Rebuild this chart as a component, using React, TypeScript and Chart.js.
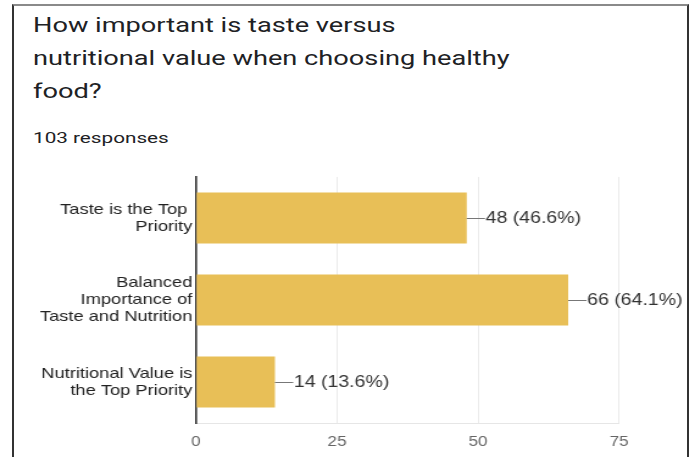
import React, { useEffect, useRef } from "react";
import { Chart, registerables } from "chart.js";

Chart.register(...registerables);

const titleLines = ["How important is taste versus", "nutritional value when choosing healthy", "food?"];
const responsesText = "103 responses";
const categories: string[][] = [
  ["Taste is the Top ", "Priority"],
  ["Balanced", "Importance of", "Taste and Nutrition"],
  ["Nutritional Value is", "the Top Priority"],
];
const counts = [48, 66, 14];
const percents = ["46.6%", "64.1%", "13.6%"];
const xTicks = [0, 25, 50, 75];

// The reference is horizontally stretched; canvas is drawn narrower and stretched by CSS.
const CSS_W = 695;
const INNER_W = 570;
const SX = CSS_W / INNER_W;
const CANVAS_TOP = 157;
const CANVAS_H = 300;

const valueLabelPlugin = {
  id: "valueLabels",
  afterDatasetsDraw(chart: any) {
    const ctx = chart.ctx;
    const meta = chart.getDatasetMeta(0);
    ctx.save();
    ctx.font = "16px 'Liberation Sans', Arial, sans-serif";
    ctx.fillStyle = "#333333";
    ctx.textBaseline = "middle";
    ctx.textAlign = "left";
    meta.data.forEach((bar: any, i: number) => {
      const x = bar.x;
      const y = Math.round(bar.y);
      ctx.strokeStyle = "#777777";
      ctx.lineWidth = 1;
      ctx.beginPath();
      ctx.moveTo(x, y + 0.5);
      ctx.lineTo(x + 15, y + 0.5);
      ctx.stroke();
      ctx.fillText(`${counts[i]} (${percents[i]})`, x + 15.5, y + 1);
    });
    ctx.restore();
  },
};

function BarChart() {
  const ref = useRef<HTMLCanvasElement | null>(null);
  useEffect(() => {
    if (!ref.current) return;
    const leftArea = 196 / SX;
    const rightArea = 619 / SX;
    const chart = new Chart(ref.current, {
      type: "bar",
      data: {
        labels: categories,
        datasets: [
          {
            data: counts,
            backgroundColor: "#e8bf57",
            borderWidth: 0,
            barPercentage: 0.62,
            categoryPercentage: 1,
          },
        ],
      },
      options: {
        indexAxis: "y",
        animation: false,
        responsive: false,
        maintainAspectRatio: false,
        devicePixelRatio: 1,
        layout: { padding: { top: 17, right: INNER_W - rightArea, bottom: 0, left: 0 } },
        plugins: { legend: { display: false }, tooltip: { enabled: false } },
        scales: {
          x: {
            min: 0,
            max: 75,
            afterBuildTicks: (scale: any) => {
              scale.ticks = xTicks.map((v) => ({ value: v }));
            },
            afterFit: (scale: any) => {
              scale.height = 34;
            },
            grid: { color: "#ebebeb", drawTicks: false, lineWidth: 1 },
            border: { display: true, color: "#e6e6e6" },
            ticks: {
              padding: 11,
              color: "#666666",
              font: { size: 14, family: "'Liberation Sans', Arial, sans-serif" },
            },
          },
          y: {
            afterFit: (scale: any) => {
              scale.width = leftArea;
            },
            grid: { display: false, drawTicks: false },
            border: { display: true, color: "#333333", width: 1.6 },
            ticks: {
              padding: 3,
              color: "#222222",
              font: { size: 15, family: "'Liberation Sans', Arial, sans-serif", lineHeight: 1.13 },
            },
          },
        },
      },
      plugins: [valueLabelPlugin],
    });
    return () => chart.destroy();
  }, []);
  return (
    <canvas
      ref={ref}
      width={INNER_W}
      height={CANVAS_H}
      style={{ position: "absolute", left: 0, top: CANVAS_TOP, width: CSS_W, height: CANVAS_H }}
    />
  );
}

export default function App() {
  return (
    <div
      style={{
        position: "fixed",
        left: 0,
        top: 0,
        width: 695,
        height: 457,
        background: "#ffffff",
        overflow: "hidden",
      }}
    >
      <div
        style={{
          position: "absolute",
          left: 12,
          top: 4,
          width: 673,
          height: 470,
          borderTop: "2px solid #8a8a8a",
          borderLeft: "2px solid #333333",
          borderRight: "2px solid #333333",
        }}
      />
      <div
        style={{
          position: "absolute",
          left: 33,
          top: 9,
          fontFamily: "Roboto, 'Noto Sans', sans-serif",
          fontSize: 20,
          lineHeight: "33px",
          color: "#202124",
          transform: "scaleX(1.36)",
          transformOrigin: "0 0",
          whiteSpace: "nowrap",
        }}
      >
        {titleLines.map((l, i) => (
          <div key={i}>{l}</div>
        ))}
      </div>
      <div
        style={{
          position: "absolute",
          left: 33,
          top: 128,
          fontFamily: "Roboto, 'Noto Sans', sans-serif",
          fontSize: 15,
          lineHeight: "20px",
          color: "#202124",
          transform: "scaleX(1.38)",
          transformOrigin: "0 0",
          whiteSpace: "nowrap",
        }}
      >
        {responsesText}
      </div>
      <BarChart />
    </div>
  );
}
